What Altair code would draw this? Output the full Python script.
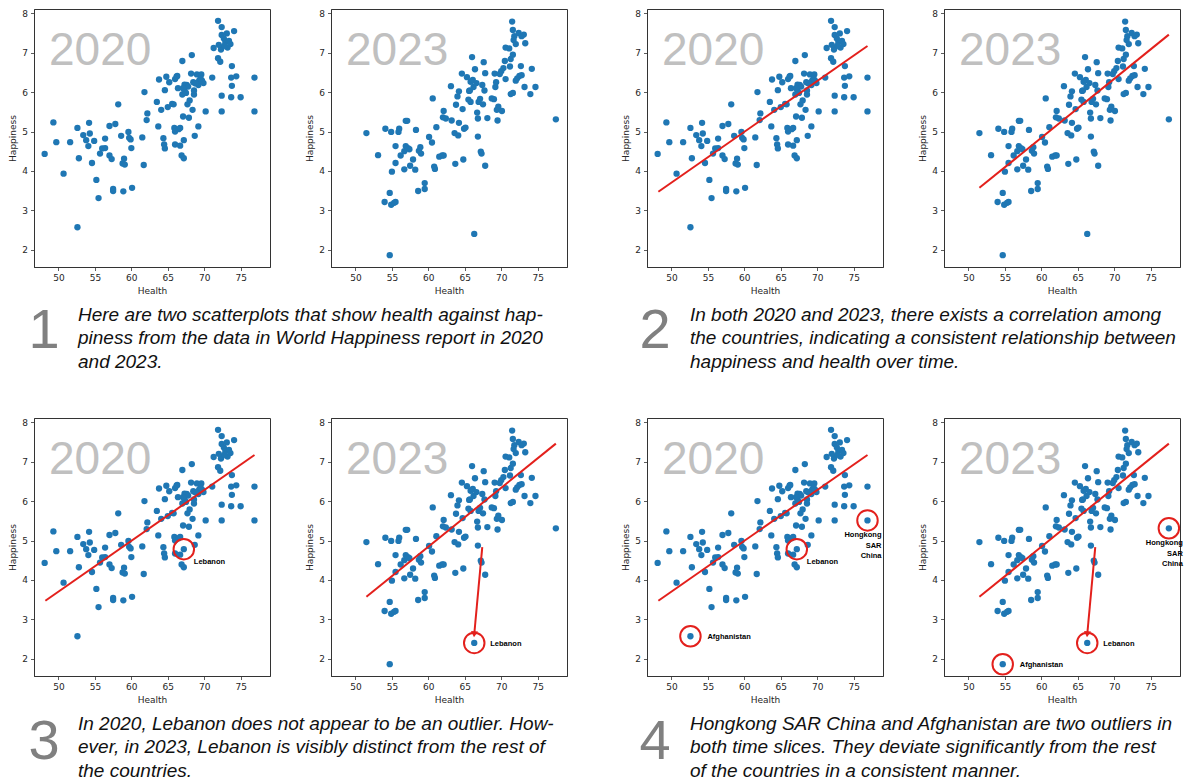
import altair as alt
import pandas as pd

# ---------------- data ----------------
HEALTH_2020 = [48.1, 49.3, 49.7, 50.7, 51.6, 52.6, 52.6, 52.8, 53.4, 53.8,
               54.1, 54.2, 54.3, 54.6, 54.9, 55.2, 55.5, 55.7, 56.0, 56.4,
               56.4, 57.0, 57.0, 57.3, 57.5, 57.5, 57.8, 58.2, 58.6, 58.8,
               59.0, 58.9, 59.1, 59.6, 59.7, 59.9, 60.0, 60.1, 61.5, 61.7,
               61.8, 62.1, 62.2, 63.5, 63.7, 63.8, 64.1, 64.4, 64.5, 64.6,
               64.6, 64.8, 65.0, 65.2, 65.6, 65.8, 65.9, 66.0, 66.0, 66.2,
               66.3, 66.4, 66.0, 66.5, 66.7, 66.7, 66.9, 67.0, 67.0, 67.1,
               67.2, 67.2, 67.3, 67.3, 67.5, 67.6, 67.7, 67.8, 67.9, 68.0,
               68.2, 68.3, 68.4, 68.5, 68.6, 68.6, 68.7, 69.0, 69.2, 69.2,
               69.3, 69.6, 69.7, 69.9, 70.2, 71.1, 71.3, 71.9, 71.9, 72.2,
               72.4, 72.4, 72.3, 72.4, 72.4, 72.4, 72.7, 72.9, 73.1, 73.2,
               73.4, 73.6, 73.7, 73.7, 73.8, 73.8, 74.1, 74.4, 75.0, 76.9,
               76.9, 68.8, 69.5, 72.0, 72.8, 67.1]
HAPPY_2020 = [4.43, 5.23, 4.73, 3.93, 4.73, 2.57, 5.09, 4.32, 4.91, 4.78,
              4.63, 5.22, 4.95, 4.20, 4.76, 3.77, 3.31, 4.44, 4.57, 4.58,
              4.82, 5.14, 4.39, 4.30, 3.54, 3.49, 5.19, 5.69, 4.89, 4.19,
              4.31, 3.48, 4.16, 4.99, 4.84, 4.80, 4.58, 3.57, 4.85, 4.15,
              6.00, 5.29, 5.46, 5.75, 5.13, 6.32, 5.55, 4.83, 4.67, 4.57,
              6.05, 6.39, 5.62, 6.25, 5.70, 5.69, 5.09, 5.00, 6.33, 6.39,
              6.41, 6.10, 4.67, 5.06, 5.09, 4.64, 4.39, 5.94, 6.79, 5.38,
              4.78, 4.32, 6.19, 6.04, 5.98, 6.18, 5.69, 6.14, 5.35, 5.79,
              6.47, 6.94, 5.55, 6.25, 5.94, 6.04, 4.89, 6.45, 6.18, 5.13,
              6.29, 6.45, 6.29, 6.23, 5.51, 6.37, 7.12, 7.81, 6.86, 6.77,
              7.45, 7.65, 7.08, 7.13, 5.91, 5.51, 7.36, 7.27, 7.49, 7.13,
              7.30, 7.22, 5.87, 6.37, 6.16, 6.66, 7.55, 6.40, 5.87, 6.37,
              5.51, 6.22, 6.35, 7.20, 7.18, 6.10]

HEALTH_2023 = [51.5, 53.1, 54.1, 54.0, 54.7, 54.7, 54.9, 55.0, 54.9, 55.3,
               55.5, 55.5, 55.5, 56.0, 55.9, 56.2, 56.7, 56.7, 56.9, 57.1,
               56.9, 57.2, 57.4, 57.5, 57.9, 58.2, 58.3, 58.6, 58.7, 58.9,
               59.0, 59.5, 59.5, 60.1, 60.5, 60.6, 60.8, 60.9, 61.1, 61.5,
               61.9, 62.1, 62.0, 62.1, 62.4, 63.1, 63.2, 63.6, 63.7, 63.8,
               64.0, 64.1, 64.2, 64.2, 64.6, 64.7, 64.8, 64.9, 65.1, 65.3,
               65.5, 65.6, 65.7, 65.8, 65.8, 66.0, 66.1, 66.2, 66.3, 66.4,
               66.6, 66.7, 66.8, 66.8, 66.9, 67.1, 67.2, 67.3, 67.4, 67.5,
               67.6, 67.7, 67.8, 67.8, 68.1, 68.7, 69.0, 69.1, 69.2, 69.3,
               69.4, 69.5, 69.6, 69.8, 70.0, 70.1, 70.3, 70.5, 70.6, 70.6,
               71.1, 71.2, 71.3, 71.3, 71.5, 71.6, 71.6, 71.6, 71.7, 71.8,
               72.0, 72.0, 72.2, 72.4, 72.5, 72.7, 72.8, 72.8, 73.1, 73.2,
               73.3, 74.0, 74.2, 74.7, 77.5]
HAPPY_2023 = [4.96, 4.40, 5.07, 3.21, 3.44, 1.86, 4.99, 3.98, 3.14, 3.19,
              3.21, 4.20, 4.63, 5.07, 4.99, 4.39, 4.50, 4.04, 5.27, 5.27,
              4.63, 4.58, 4.55, 4.13, 4.29, 4.03, 5.04, 3.49, 4.51, 4.60,
              4.44, 3.69, 3.54, 4.86, 4.72, 5.84, 4.11, 4.05, 5.11, 4.36,
              4.39, 4.39, 5.36, 5.52, 5.33, 6.15, 5.28, 4.96, 4.18, 5.68,
              5.89, 4.90, 6.02, 5.22, 6.47, 5.57, 4.29, 5.07, 5.10, 6.38,
              5.81, 6.03, 6.04, 6.26, 5.75, 6.89, 6.31, 6.13, 2.40, 6.58,
              6.23, 5.48, 5.33, 4.87, 5.75, 5.83, 4.49, 4.44, 6.18, 5.69,
              6.76, 6.04, 6.48, 4.13, 5.34, 5.84, 5.82, 6.47, 6.13, 6.25,
              5.55, 5.28, 5.63, 6.46, 6.53, 5.52, 6.61, 6.79, 6.33, 7.13,
              7.11, 6.65, 6.84, 5.95, 7.79, 5.98, 7.58, 6.95, 7.32, 7.42,
              7.22, 6.29, 6.35, 7.50, 6.41, 6.66, 7.42, 6.43, 7.46, 6.13,
              7.24, 5.95, 6.59, 6.13, 5.31]

# regression line end points
FIT_2020_HEALTH = [48.2, 76.9]
FIT_2020_HAPPY = [3.47, 7.17]
FIT_2023_HEALTH = [51.5, 77.5]
FIT_2023_HAPPY = [3.57, 7.46]

# highlighted countries (health, happiness)
LEBANON_2020 = [67.2, 4.78]
LEBANON_2023 = [66.3, 2.40]
AFGHANISTAN_2020 = [52.6, 2.57]
AFGHANISTAN_2023 = [54.7, 1.86]
HONGKONG_2020 = [76.9, 5.51]
HONGKONG_2023 = [77.5, 5.31]
ARROW_HEALTH = [67.4, 66.3]
ARROW_HAPPY = [4.83, 2.62]

X_TICKS = [50, 55, 60, 65, 70, 75]
Y_TICKS = [2, 3, 4, 5, 6, 7, 8]
X_DOMAIN = [46.64, 79.03]
Y_DOMAIN = [1.56, 8.11]

CAPTION_1 = ["Here are two scatterplots that show health against hap-",
             "piness from the data in World Happiness report in 2020",
             "and 2023."]
CAPTION_2 = ["In both 2020 and 2023, there exists a correlation among",
             "the countries, indicating a consistent relationship between",
             "happiness and health over time."]
CAPTION_3 = ["In 2020, Lebanon does not appear to be an outlier.  How-",
             "ever, in 2023, Lebanon is visibly distinct from the rest of",
             "the countries."]
CAPTION_4 = ["Hongkong SAR China and Afghanistan are two outliers in",
             "both time slices. They deviate significantly from the rest",
             "of the countries in a consistent manner."]

BLUE = "#1f77b4"
RED = "#e3201c"
PLOT_W = 236
PLOT_H = 258


def xy():
    return dict(
        x=alt.X("Health:Q", scale=alt.Scale(domain=X_DOMAIN, nice=False, zero=False),
                axis=alt.Axis(values=X_TICKS, title="Health")),
        y=alt.Y("Happiness:Q", scale=alt.Scale(domain=Y_DOMAIN, nice=False, zero=False),
                axis=alt.Axis(values=Y_TICKS, title="Happiness")),
    )


def one_point(p, label=""):
    return pd.DataFrame({"Health": [p[0]], "Happiness": [p[1]], "label": [label]})


def circle_note(p):
    return alt.Chart(one_point(p)).mark_point(
        shape="circle", size=420, filled=False, stroke=RED, strokeWidth=2, opacity=1
    ).encode(**xy())


def text_note(p, label, dx, dy):
    return alt.Chart(one_point(p, label)).mark_text(
        font="Liberation Sans", fontWeight="bold", fontSize=7.5, color="#000",
        align="left", baseline="middle", dx=dx, dy=dy
    ).encode(text="label:N", **xy())


def hk_note(p):
    return alt.Chart(one_point(p)).mark_text(
        font="Liberation Sans", fontWeight="bold", fontSize=7.5, color="#000",
        align="right", baseline="top", dx=14, dy=11, lineHeight=10.5
    ).encode(text=alt.value(["Hongkong", "SAR", "China"]), **xy())


def arrow():
    line = alt.Chart(pd.DataFrame({"Health": ARROW_HEALTH, "Happiness": ARROW_HAPPY})).mark_line(
        color=RED, strokeWidth=2).encode(**xy())
    head = alt.Chart(one_point([ARROW_HEALTH[1], ARROW_HAPPY[1]])).mark_point(
        shape="triangle-down", filled=True, size=50, color=RED, opacity=1, angle=5
    ).encode(**xy())
    return [line, head]


def scatter(year, hx, hy, fit=None, notes=()):
    pts = pd.DataFrame({"Health": hx, "Happiness": hy})
    layers = [alt.Chart(pts).mark_circle(size=40, color=BLUE, opacity=1).encode(**xy())]
    if fit is not None:
        fdf = pd.DataFrame({"Health": fit[0], "Happiness": fit[1]})
        layers.append(alt.Chart(fdf).mark_line(color=RED, strokeWidth=2).encode(**xy()))
    layers.append(
        alt.Chart(pd.DataFrame({"year": [year]})).mark_text(
            font="Liberation Sans", fontSize=46, color="#c0c0c0",
            align="left", baseline="alphabetic"
        ).encode(x=alt.value(15), y=alt.value(56), text="year:N")
    )
    layers.extend(notes)
    return alt.layer(*layers).properties(width=PLOT_W, height=PLOT_H)


F20 = (FIT_2020_HEALTH, FIT_2020_HAPPY)
F23 = (FIT_2023_HEALTH, FIT_2023_HAPPY)

p1a = scatter("2020", HEALTH_2020, HAPPY_2020)
p1b = scatter("2023", HEALTH_2023, HAPPY_2023)
p2a = scatter("2020", HEALTH_2020, HAPPY_2020, F20)
p2b = scatter("2023", HEALTH_2023, HAPPY_2023, F23)
p3a = scatter("2020", HEALTH_2020, HAPPY_2020, F20, [
    circle_note(LEBANON_2020), text_note(LEBANON_2020, "Lebanon", 10, 13)])
p3b = scatter("2023", HEALTH_2023, HAPPY_2023, F23, [
    circle_note(LEBANON_2023), text_note(LEBANON_2023, "Lebanon", 16, 1)] + arrow())
p4a = scatter("2020", HEALTH_2020, HAPPY_2020, F20, [
    circle_note(LEBANON_2020), text_note(LEBANON_2020, "Lebanon", 10, 13),
    circle_note(AFGHANISTAN_2020), text_note(AFGHANISTAN_2020, "Afghanistan", 17, 1),
    circle_note(HONGKONG_2020), hk_note(HONGKONG_2020)])
p4b = scatter("2023", HEALTH_2023, HAPPY_2023, F23, [
    circle_note(LEBANON_2023), text_note(LEBANON_2023, "Lebanon", 16, 1),
    circle_note(AFGHANISTAN_2023), text_note(AFGHANISTAN_2023, "Afghanistan", 17, 1),
    circle_note(HONGKONG_2023), hk_note(HONGKONG_2023)] + arrow())


def caption_layers(num, lines, x_num, x_text, y_num, y_text):
    d = pd.DataFrame({"num": [num]})
    n = alt.Chart(d).mark_text(
        font="Liberation Sans", fontSize=56, color="#808080", align="center",
        baseline="alphabetic"
    ).encode(x=alt.value(x_num), y=alt.value(y_num), text="num:N")
    t = alt.Chart(d).mark_text(
        font="Liberation Sans", fontStyle="italic", fontSize=19, color="#111",
        align="left", baseline="alphabetic", lineHeight=23.5
    ).encode(x=alt.value(x_text), y=alt.value(y_text), text=alt.value(lines))
    return [n, t]


cap_row1 = alt.layer(
    *caption_layers("1", CAPTION_1, 10, 44, 51, 23.5),
    *caption_layers("2", CAPTION_2, 621, 656, 51, 23.5),
).properties(width=1000, height=119, view=alt.ViewBackground(stroke="transparent"))

cap_row2 = alt.layer(
    *caption_layers("3", CAPTION_3, 10, 44, 53, 23.5),
    *caption_layers("4", CAPTION_4, 621, 656, 53, 23.5),
).properties(width=1000, height=60, view=alt.ViewBackground(stroke="transparent"))

IN_GAP = 34
OUT_GAP = 53

row1 = alt.hconcat(alt.hconcat(p1a, p1b, spacing=IN_GAP),
                   alt.hconcat(p2a, p2b, spacing=IN_GAP), spacing=OUT_GAP)
row2 = alt.hconcat(alt.hconcat(p3a, p3b, spacing=IN_GAP),
                   alt.hconcat(p4a, p4b, spacing=IN_GAP), spacing=OUT_GAP)

chart = alt.vconcat(row1, cap_row1, row2, cap_row2, spacing=0).properties(
    padding={"left": 0, "top": 0, "right": 0, "bottom": 0}
).configure_view(
    stroke="#333", strokeWidth=1
).configure_axis(
    labelFont="DejaVu Sans", labelFontSize=9, labelColor="#262626",
    titleFont="DejaVu Sans", titleFontSize=9, titleFontWeight="normal", titleColor="#262626",
    tickSize=3.5, tickColor="#333", tickWidth=0.8, domainColor="#333", domainWidth=1,
    labelPadding=3, titlePadding=4, grid=False, labelFlush=False
)

chart.save("out.html", embed_options={"renderer": "svg", "actions": False})
